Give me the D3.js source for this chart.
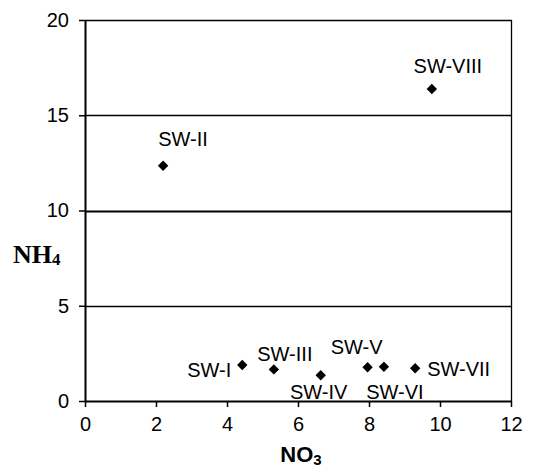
<!DOCTYPE html>
<html lang="en">
<head>
<meta charset="utf-8">
<title>NO3 vs NH4</title>
<script src="https://d3js.org/d3.v7.min.js"></script>
<style>
  body { margin: 0; background: #fff; }
  svg { display: block; }
</style>
</head>
<body>
<svg id="chart" width="544" height="468"></svg>
<script>
// data
var sites = ["SW-I", "SW-II", "SW-III", "SW-IV", "SW-V", "SW-VI", "SW-VII", "SW-VIII"];
var no3 = [4.43, 2.20, 5.32, 6.64, 7.96, 8.42, 9.30, 9.77];
var nh4 = [1.89, 12.35, 1.66, 1.35, 1.77, 1.80, 1.72, 16.38];
var xTicks = [0, 2, 4, 6, 8, 10, 12];
var yTicks = [0, 5, 10, 15, 20];

// where each label sits relative to its marker (anchor, dx, dy)
var labelPlace = {
  "SW-I":   ["end", -11, 12],
  "SW-II":  ["middle", 20, -20],
  "SW-III": ["middle", 11, -8],
  "SW-IV":  ["middle", -2, 24],
  "SW-V":   ["middle", -11, -13],
  "SW-VI":  ["middle", 11, 32],
  "SW-VII": ["start", 12, 8],
  "SW-VIII":["middle", 16, -16]
};

var sansFont = "'Liberation Sans', Arial, sans-serif";
var svg = d3.select("#chart");
var mLeft = 85, mRight = 511, mTop = 20, mBottom = 401;

var x = d3.scaleLinear().domain([0, 12]).range([mLeft, mRight]);
var y = d3.scaleLinear().domain([0, 20]).range([mBottom, mTop]);

// gridlines (including the top frame)
svg.append("g")
  .selectAll("line")
  .data(yTicks.filter(function (d) { return d > 0; }))
  .enter().append("line")
  .attr("x1", mLeft).attr("x2", mRight + 1)
  .attr("y1", function (d) { return Math.round(y(d)) + 0.5; })
  .attr("y2", function (d) { return Math.round(y(d)) + 0.5; })
  .attr("stroke", "#000")
  .attr("stroke-width", function (d) { return d === 10 ? 2 : 1.3; });

// right border
svg.append("line")
  .attr("x1", mRight + 0.5).attr("x2", mRight + 0.5)
  .attr("y1", mTop).attr("y2", mBottom)
  .attr("stroke", "#000").attr("stroke-width", 1.3);

var xAxis = svg.append("g")
  .attr("transform", "translate(0," + mBottom + ")")
  .call(d3.axisBottom(x).tickValues(xTicks).tickSize(6).tickPadding(10).tickSizeOuter(0));

var yAxis = svg.append("g")
  .attr("transform", "translate(" + mLeft + ",0)")
  .call(d3.axisLeft(y).tickValues(yTicks).tickSize(6).tickPadding(10).tickSizeOuter(0));

[xAxis, yAxis].forEach(function (a) {
  a.select(".domain").attr("stroke", "#000").attr("stroke-width", 2);
  a.selectAll(".tick line").attr("stroke", "#000").attr("stroke-width", 1.5);
  a.selectAll(".tick text")
    .attr("font-family", sansFont)
    .attr("font-size", 20)
    .attr("fill", "#000");
});

// markers
var pts = sites.map(function (s, i) { return { name: s, x: no3[i], y: nh4[i] }; });

svg.append("g")
  .selectAll("path")
  .data(pts)
  .enter().append("path")
  .attr("d", d3.symbol().type(d3.symbolSquare).size(54))
  .attr("transform", function (d) { return "translate(" + x(d.x) + "," + y(d.y) + ") rotate(45)"; })
  .attr("fill", "#000");

// labels
svg.append("g")
  .selectAll("text")
  .data(pts)
  .enter().append("text")
  .attr("font-family", sansFont)
  .attr("font-size", 20)
  .attr("x", function (d) { return x(d.x) + labelPlace[d.name][1]; })
  .attr("y", function (d) { return y(d.y) + labelPlace[d.name][2]; })
  .attr("text-anchor", function (d) { return labelPlace[d.name][0]; })
  .text(function (d) { return d.name; });

// axis titles
var yt = svg.append("text")
  .attr("x", 13).attr("y", 263)
  .attr("font-family", "'Liberation Serif', 'Times New Roman', serif")
  .attr("font-weight", "bold").attr("font-size", 26);
yt.append("tspan").text("NH");
yt.append("tspan").attr("font-size", 17).attr("dy", 2).text("4");

var xt = svg.append("text")
  .attr("x", 301).attr("y", 462)
  .attr("text-anchor", "middle")
  .attr("font-family", sansFont)
  .attr("font-weight", "bold").attr("font-size", 22);
xt.append("tspan").text("NO");
xt.append("tspan").attr("font-size", 15).attr("dy", 3).text("3");
</script>
</body>
</html>
